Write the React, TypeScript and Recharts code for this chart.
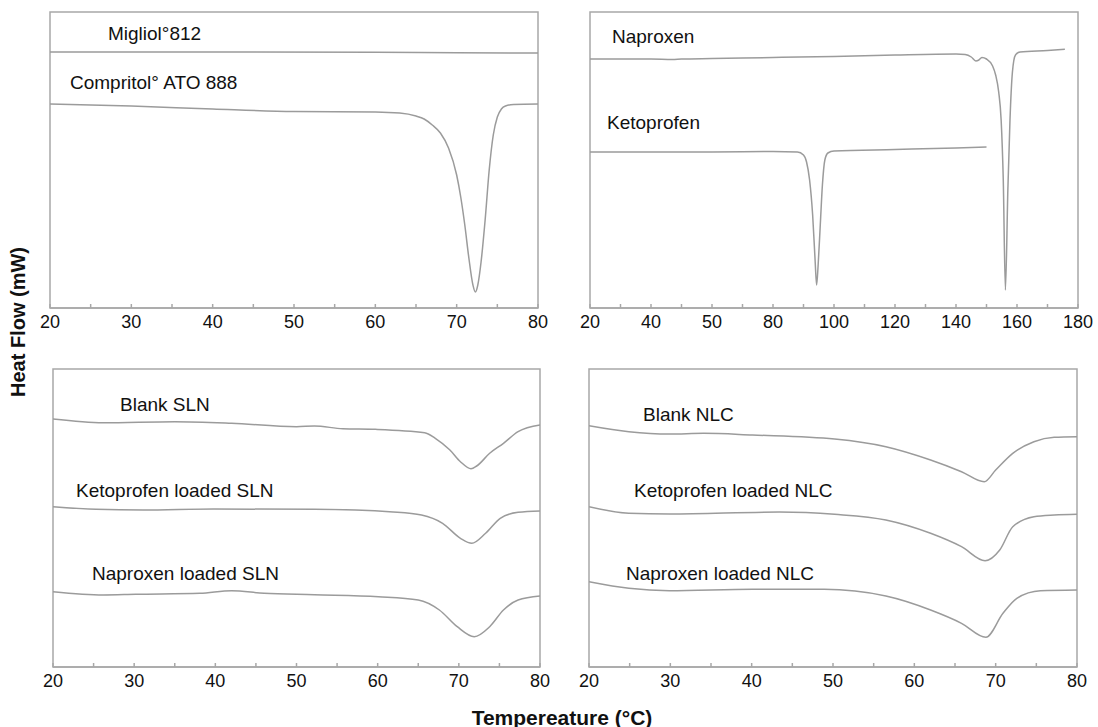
import React from 'react';
import { LineChart, Line, XAxis, YAxis, ReferenceArea } from 'recharts';

// temperatures (°C) and heat flow readings (arbitrary units)
const migliol: [number, number][] = [
  [20, 256], [40, 256], [60, 255.8], [70, 255.3], [80, 255],
];
const compritol: [number, number][] = [
  [20, 204], [30, 202], [40, 199], [50, 196.5], [60, 196], [63, 195], [65, 192],
  [66, 189], [67, 183], [68, 175], [69, 160], [70, 133], [70.5, 111], [71, 83],
  [71.5, 50], [72, 23], [72.3, 16], [72.6, 23], [73, 46], [73.5, 88], [74, 138],
  [74.5, 173], [75, 191], [75.5, 199], [76, 202], [77, 203.5], [80, 204],
];
const naproxen: [number, number][] = [
  [20, 249], [40, 249], [47, 248.5], [50, 249], [60, 249.5], [80, 250.5], [100, 251.5],
  [120, 253], [140, 254], [143, 253.5], [145, 251], [146.5, 247], [147.5, 248],
  [148.5, 250.5], [150, 249], [152, 242], [153, 233], [154, 216], [154.8, 188],
  [155.5, 128], [156.2, 18], [157, 118], [157.7, 188], [158.5, 236], [159.5, 253],
  [161, 256], [170, 257.5], [175.7, 258.7],
];
const ketoprofen: [number, number][] = [
  [20, 156], [40, 156], [60, 156], [80, 156.5], [88, 156], [90, 153], [91, 146],
  [92, 128], [93, 93], [93.8, 48], [94.3, 23], [94.8, 43], [95.5, 83], [96.2, 123],
  [97, 148], [98, 155], [100, 157], [120, 158.5], [140, 160], [150, 161],
];
const blankSLN: [number, number][] = [
  [20, 248], [26.2, 244.3], [35, 245.3], [42, 243.7], [50, 240.3], [52.2, 241],
  [55.7, 238.3], [59.7, 237.7], [65.8, 234.3], [67.1, 228.7], [68.9, 217],
  [70.2, 205.3], [71.5, 198.3], [72.2, 201], [73.8, 213.7], [75.5, 223.7],
  [77.3, 235.3], [80, 242],
];
const ketoSLN: [number, number][] = [
  [20, 160.3], [25.3, 157.7], [31.1, 157], [39.8, 158], [52.2, 157.7], [61.9, 155],
  [65.4, 152], [68, 143.7], [70.2, 128.7], [71.6, 123.7], [73.3, 133.7],
  [75.1, 148.7], [77.3, 154.7], [80, 156],
];
const napSLN: [number, number][] = [
  [20, 75.3], [26.2, 72], [30.2, 72.7], [38.1, 73.7], [42, 76.3], [46, 73.7],
  [52.2, 72.3], [60.1, 70.3], [65, 67], [67.6, 57], [69.8, 40.3], [71.9, 30.3],
  [73.8, 40.3], [75.5, 57], [77.3, 67], [80, 71],
];
const blankNLC: [number, number][] = [
  [20, 241.3], [24.9, 235.3], [29.9, 233], [34.1, 233.7], [40.1, 232], [50.2, 228],
  [56.5, 220.3], [62, 207], [65.8, 195.3], [68.6, 185.3], [70, 197], [72.1, 213.7],
  [74.7, 225.3], [77.2, 229.7], [80, 230.3],
];
const ketoNLC: [number, number][] = [
  [20, 160.3], [24.9, 153.7], [29.9, 153], [43.4, 155], [50.2, 152.7], [56.5, 147],
  [62, 133.7], [65.8, 120.3], [68.7, 106.3], [70.5, 117], [72.1, 140.3],
  [74.7, 150.3], [77.2, 152], [80, 152.7],
];
const napNLC: [number, number][] = [
  [20, 85.3], [24.9, 78.7], [29.9, 76.3], [40.1, 77.7], [48.9, 77.7], [56.5, 71],
  [62, 57], [65.8, 43.7], [68.8, 29.7], [70.9, 53.7], [72.6, 68.7], [75.5, 76.3],
  [80, 77],
];

// x ticks
const ticks20to80 = [20, 25, 30, 35, 40, 45, 50, 55, 60, 65, 70, 75, 80];
const labels20to80 = [20, 30, 40, 50, 60, 70, 80];
const ticks20to180 = [20, 30, 40, 50, 60, 70, 80, 90, 100, 110, 120, 130, 140, 150, 160, 170, 180];
const major20to180 = [20, 40, 60, 80, 100, 120, 140, 160, 180];
const labels20to180 = ['20', '40', '50', '80', '100', '120', '140', '160', '180'];

const toRows = (pts: [number, number][]) => pts.map(([t, v]) => ({ t, v }));

const LINE = '#9b9b9b';
const FRAME = '#a8a8a8';
const FONT = '"Liberation Sans", Arial, sans-serif';

interface PanelProps {
  left: number;
  top: number;
  width: number;
  height: number;
  margin: { top: number; right: number; bottom: number; left: number };
  domain: [number, number];
  yMax: number;
  ticks: number[];
  fmt: (v: number) => string;
  series: [number, number][][];
}

function Panel({ left, top, width, height, margin, domain, yMax, ticks, fmt, series }: PanelProps) {
  return (
    <div style={{ position: 'absolute', left, top }}>
      <LineChart width={width} height={height} margin={margin}>
        <XAxis
          type="number"
          dataKey="t"
          domain={domain}
          ticks={ticks}
          interval={0}
          height={28}
          allowDataOverflow
          stroke={FRAME}
          strokeWidth={1.5}
          tickSize={-4}
          tickMargin={11}
          tickFormatter={fmt}
          tick={{ fill: '#111', fontSize: 18, fontFamily: FONT }}
        />
        <YAxis type="number" domain={[0, yMax]} hide />
        {/* box around the plot */}
        <ReferenceArea
          x1={domain[0]}
          x2={domain[1]}
          y1={0}
          y2={yMax}
          fill="none"
          stroke={FRAME}
          strokeWidth={1.5}
          ifOverflow="visible"
        />
        {series.map((s, i) => (
          <Line
            key={i}
            data={toRows(s)}
            dataKey="v"
            type="monotone"
            stroke={LINE}
            strokeWidth={1.5}
            dot={false}
            isAnimationActive={false}
          />
        ))}
      </LineChart>
    </div>
  );
}

const labelStyle: React.CSSProperties = {
  position: 'absolute',
  fontFamily: FONT,
  fontSize: 19,
  lineHeight: '19px',
  color: '#111',
  whiteSpace: 'nowrap',
};

const notes: [string, number, number][] = [
  ['Migliol°812', 108, 24],
  ['Compritol° ATO 888', 70, 73],
  ['Naproxen', 612, 27],
  ['Ketoprofen', 607, 113],
  ['Blank SLN', 120, 395],
  ['Ketoprofen loaded SLN', 76, 481],
  ['Naproxen loaded SLN', 92, 564],
  ['Blank NLC', 643, 405],
  ['Ketoprofen loaded NLC', 634, 481],
  ['Naproxen loaded NLC', 626, 564],
];

export default function App() {
  const fmt80 = (v: number) => (labels20to80.includes(v) ? String(v) : '');
  const fmt180 = (v: number) => {
    const i = major20to180.indexOf(v);
    return i >= 0 ? labels20to180[i] : '';
  };
  return (
    <div style={{ position: 'absolute', left: 0, top: 0, width: 1098, height: 727, background: '#fff' }}>
      <Panel left={0} top={0} width={560} height={340} margin={{ top: 12, right: 22, bottom: 4, left: 50 }}
        domain={[20, 80]} yMax={296} ticks={ticks20to80} fmt={fmt80} series={[migliol, compritol]} />
      <Panel left={560} top={0} width={538} height={340} margin={{ top: 12, right: 20, bottom: 4, left: 30 }}
        domain={[20, 180]} yMax={296} ticks={ticks20to180} fmt={fmt180} series={[naproxen, ketoprofen]} />
      <Panel left={0} top={357} width={560} height={342} margin={{ top: 12, right: 20, bottom: 4, left: 53 }}
        domain={[20, 80]} yMax={298} ticks={ticks20to80} fmt={fmt80} series={[blankSLN, ketoSLN, napSLN]} />
      <Panel left={560} top={357} width={538} height={342} margin={{ top: 12, right: 21, bottom: 4, left: 29 }}
        domain={[20, 80]} yMax={298} ticks={ticks20to80} fmt={fmt80} series={[blankNLC, ketoNLC, napNLC]} />

      {notes.map(([text, x, y]) => (
        <div key={text} style={{ ...labelStyle, left: x, top: y }}>{text}</div>
      ))}

      <div style={{ position: 'absolute', left: 362, top: 707, width: 400, textAlign: 'center',
        fontFamily: FONT, fontWeight: 'bold', fontSize: 21, lineHeight: '21px', color: '#111' }}>
        Tempereature (°C)
      </div>
      <div style={{ position: 'absolute', left: 18 - 100, top: 322 - 10, width: 200, textAlign: 'center',
        transform: 'rotate(-90deg)', fontFamily: FONT, fontWeight: 'bold', fontSize: 20, lineHeight: '20px', color: '#111' }}>
        Heat Flow (mW)
      </div>
    </div>
  );
}
